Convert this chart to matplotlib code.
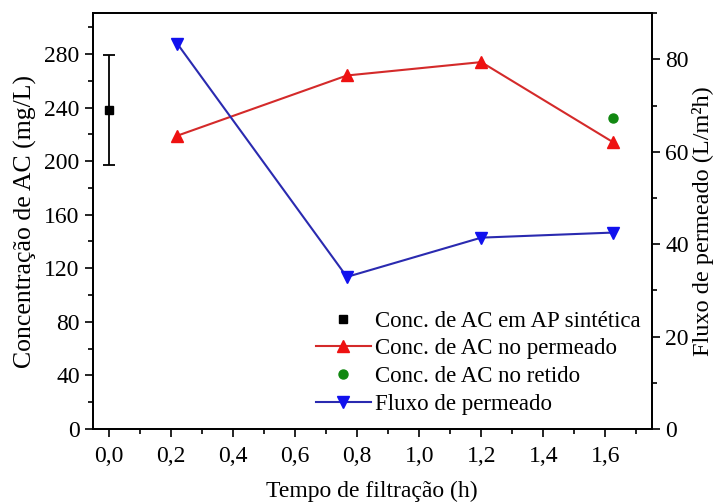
#!/usr/bin/env python3

import matplotlib
matplotlib.use("Agg")
import matplotlib.pyplot as plt
from matplotlib.lines import Line2D
from matplotlib.ticker import MultipleLocator

# concentration in the synthetic water (mean +/- error)
t_feed = [0.0]
c_feed = [238.5]
c_feed_err = [41.0]

# concentration in the permeate
t_perm = [0.22, 0.767, 1.20, 1.626]
c_perm = [219.0, 264.0, 274.0, 214.0]

# concentration in the retentate
t_ret = [1.626]
c_ret = [232.0]

# permeate flux (right axis)
flux = [83.4, 32.9, 41.4, 42.5]

x_ticks = [0.0, 0.2, 0.4, 0.6, 0.8, 1.0, 1.2, 1.4, 1.6]
x_tick_labels = [f"{v:.1f}".replace(".", ",") for v in x_ticks]

plt.rcParams["font.family"] = ["Liberation Serif", "DejaVu Serif"]

fig = plt.figure(figsize=(7.14, 5.04), dpi=100)
ax = fig.add_axes([0.130, 0.149, 0.783, 0.825])
ax2 = ax.twinx()

ax.errorbar(t_feed, c_feed, yerr=c_feed_err, fmt="s", color="black",
            ms=6, capsize=4.5, elinewidth=1.3, capthick=1.3)
h2, = ax.plot(t_perm, c_perm, "-^", color="#d42a2a", mfc="#ee1111", mec="#ee1111",
              ms=8.5, lw=1.5, label="Conc. de AC no permeado")
h3, = ax.plot(t_ret, c_ret, "o", color="#118811", ms=6.5, lw=0,
              label="Conc. de AC no retido")
h4, = ax2.plot(t_perm, flux, "-v", color="#2a2ab0", mfc="#1111ee", mec="#1111ee",
               ms=8.5, lw=1.5, label="Fluxo de permeado")
h1 = Line2D([], [], marker="s", color="black", ms=6, lw=0,
            label="Conc. de AC em AP sintética")

ax.set_xlim(-0.052, 1.75)
ax.set_ylim(0, 310.6)
ax2.set_ylim(0, 90)

ax.set_xticks(x_ticks)
ax.set_xticklabels(x_tick_labels)
ax.xaxis.set_minor_locator(MultipleLocator(0.1))
ax.yaxis.set_major_locator(MultipleLocator(40))
ax.yaxis.set_minor_locator(MultipleLocator(20))
ax2.yaxis.set_major_locator(MultipleLocator(20))
ax2.yaxis.set_minor_locator(MultipleLocator(10))

for a in (ax, ax2):
    a.tick_params(which="major", direction="out", length=6, width=1.2, labelsize=17)
    a.tick_params(which="minor", direction="out", length=3.5, width=1.2)
    for s in a.spines.values():
        s.set_linewidth(1.3)
ax.tick_params(axis="x", pad=6)
ax.tick_params(right=False, top=False)
ax.tick_params(axis="y", which="minor", right=False)
ax.tick_params(axis="x", which="minor", top=False)

ax.set_xlabel("Tempo de filtração (h)", fontsize=17)
ax.set_ylabel("Concentração de AC (mg/L)", fontsize=18.5)
ax2.set_ylabel("Fluxo de permeado (L/m²h)", fontsize=17.5)
ax.xaxis.set_label_coords(0.499, -0.125)
ax.yaxis.set_label_coords(-0.100, 0.5)
ax2.yaxis.set_label_coords(1.071, 0.5)

ax2.legend([h1, h2, h3, h4],
           [h1.get_label(), h2.get_label(), h3.get_label(), h4.get_label()],
           loc="center left", bbox_to_anchor=(0.399, 0.159), frameon=False,
           fontsize=16.5, handlelength=2.4, handletextpad=0.2, labelspacing=0.29,
           borderaxespad=0.0, borderpad=0.0)

fig.savefig("out.png", dpi=100)
